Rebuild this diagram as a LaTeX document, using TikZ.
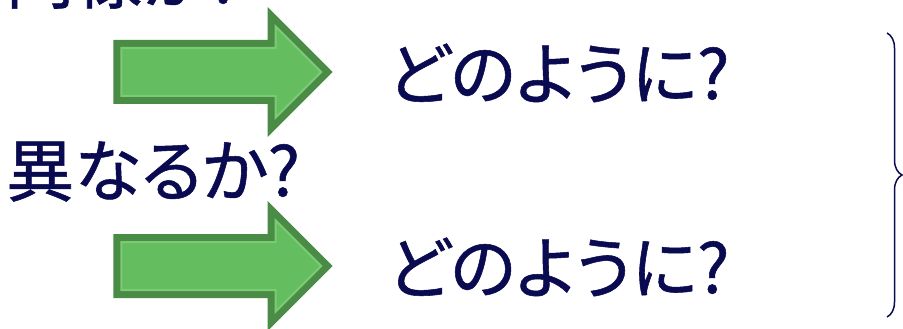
\documentclass[tikz,border=0pt]{standalone}
\usepackage{fontspec}
\newfontfamily\jpfont[RawFeature=+palt, FakeBold=0.8]{Noto Sans CJK JP}
\usetikzlibrary{shapes.arrows,decorations.pathreplacing}
\definecolor{navy}{RGB}{10,10,80}
\definecolor{arrowdark}{RGB}{74,140,70}
\definecolor{arrowfill}{RGB}{100,190,96}
\definecolor{arrowlight}{RGB}{122,204,114}
\begin{document}
\begin{tikzpicture}[x=1pt, y=-1pt,
	txt/.style={anchor=base west, inner sep=0pt, text=navy, font=\jpfont\fontsize{68}{68}\selectfont},
	garrow/.style={single arrow, anchor=tip, minimum height=200pt, minimum width=89.4pt, single arrow head extend=21.7pt, inner xsep=0pt, inner ysep=23pt, line join=miter, fill=arrowfill, draw=arrowlight, line width=2pt, preaction={draw=arrowdark, line width=16pt, line join=miter}}]
		\useasboundingbox (0,0) rectangle (903,329);
		\clip (0,0) rectangle (903,329);
		\node (same) at (6,3) [txt] {同様か?};
		\node (diff) at (6,196) [txt] {異なるか?};
		\node (arrowA) at (322.7,72) [garrow] {};
		\node (arrowB) at (322.7,266) [garrow] {};
		\node (howA) at (387,99) [txt] {どのように?};
		\node (howB) at (387,293) [txt] {どのように?};
		\draw [navy, line width=1.5pt, decorate, decoration={brace, amplitude=15pt}] (887,33) -- (887,317);
		\end{tikzpicture}
\end{document}
